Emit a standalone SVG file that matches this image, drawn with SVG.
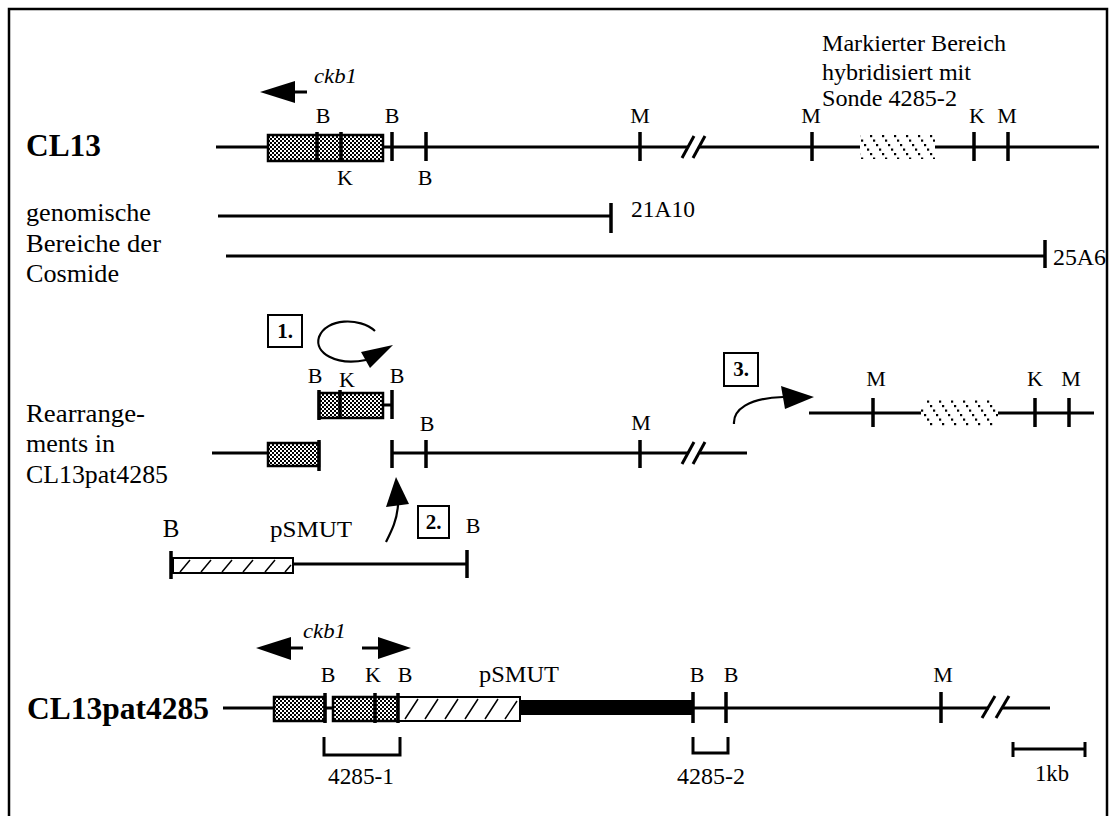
<svg xmlns="http://www.w3.org/2000/svg" width="1114" height="816" viewBox="0 0 1114 816">
<style>
text{font-family:"Liberation Serif","Times New Roman",serif;fill:#000}
.lb{font-size:22px;text-anchor:middle}
.tx{font-size:25px}
.sm{font-size:23px}
.bold{font-weight:bold;font-size:31px}
.it{font-style:italic;font-size:22px}
.ln{stroke:#000;stroke-width:3;fill:none}
.tk{stroke:#000;stroke-width:3.5;fill:none}
.th{stroke:#000;stroke-width:1.5;fill:none}
.arc{stroke:#000;stroke-width:2.2;fill:none}
.box{stroke:#000;stroke-width:2.5}
.num{fill:#fff;stroke:#000;stroke-width:2}
.nt{font-size:21px;font-weight:bold;text-anchor:middle}
</style>
<defs>
<pattern id="check" width="4" height="4" patternUnits="userSpaceOnUse"><rect width="4" height="4" fill="#fff"/><rect width="2" height="2" fill="#000"/><rect x="2" y="2" width="2" height="2" fill="#000"/></pattern>
<pattern id="stip" width="12" height="18" patternUnits="userSpaceOnUse"><rect width="12" height="18" fill="#fff"/><rect x="0" y="0" width="2.2" height="2.2" fill="#000"/><rect x="3" y="4.5" width="2.2" height="2.2" fill="#000"/><rect x="6" y="9" width="2.2" height="2.2" fill="#000"/><rect x="9" y="13.5" width="2.2" height="2.2" fill="#000"/></pattern>
</defs>
<rect x="9" y="9" width="1098" height="900" fill="#fff" stroke="#000" stroke-width="2.5"/>

<g id="markierter">
<text class="sm" x="822" y="51" textLength="184" lengthAdjust="spacingAndGlyphs">Markierter Bereich</text>
<text class="sm" x="822" y="80" textLength="149" lengthAdjust="spacingAndGlyphs">hybridisiert mit</text>
<text class="sm" x="822" y="106" textLength="135" lengthAdjust="spacingAndGlyphs">Sonde 4285-2</text>
</g>

<g id="cl13">
<text class="bold" x="26" y="156" textLength="75" lengthAdjust="spacingAndGlyphs">CL13</text>
<polyline class="ln" points="216,147 688,147"/>
<polyline class="ln" points="699,147 1099,147"/>
<line class="ln" x1="682" y1="158" x2="694" y2="136"/>
<line class="ln" x1="693" y1="158" x2="705" y2="136"/>
<rect class="box" x="268" y="135" width="115" height="26" fill="url(#check)"/>
<rect x="860" y="133" width="75" height="26" fill="url(#stip)"/>
<path class="tk" d="M317 132V161M341 132V161M392 132V161M426 132V161M640 132V161M812 132V161M974 132V161M1008 132V161"/>
<text class="lb" x="323" y="123">B</text>
<text class="lb" x="392" y="123">B</text>
<text class="lb" x="640" y="123">M</text>
<text class="lb" x="811" y="123">M</text>
<text class="lb" x="977" y="123">K</text>
<text class="lb" x="1007" y="123">M</text>
<text class="lb" x="345" y="185">K</text>
<text class="lb" x="425" y="185">B</text>
<polygon points="260,92 295,81 295,103" fill="#000"/>
<rect x="294" y="90.5" width="13" height="3" fill="#000"/>
<text class="it" x="314" y="83" textLength="43" lengthAdjust="spacingAndGlyphs">ckb1</text>
</g>

<g id="cosmide">
<text class="tx" x="26" y="221" textLength="125" lengthAdjust="spacingAndGlyphs">genomische</text>
<text class="tx" x="26" y="252" textLength="135" lengthAdjust="spacingAndGlyphs">Bereiche der</text>
<text class="tx" x="26" y="282" textLength="93" lengthAdjust="spacingAndGlyphs">Cosmide</text>
<line class="ln" x1="218" y1="216" x2="611" y2="216"/>
<line class="tk" x1="611" y1="203" x2="611" y2="233"/>
<text class="sm" x="631" y="217" textLength="64" lengthAdjust="spacingAndGlyphs">21A10</text>
<line class="ln" x1="226" y1="256" x2="1045" y2="256"/>
<line class="tk" x1="1045" y1="240" x2="1045" y2="268"/>
<text class="sm" x="1053" y="265" textLength="53" lengthAdjust="spacingAndGlyphs">25A6</text>
</g>

<g id="rearrangements">
<text class="tx" x="26" y="422" textLength="119" lengthAdjust="spacingAndGlyphs">Rearrange-</text>
<text class="tx" x="26" y="452" textLength="89" lengthAdjust="spacingAndGlyphs">ments in</text>
<text class="tx" x="26" y="483" textLength="142" lengthAdjust="spacingAndGlyphs">CL13pat4285</text>
<line class="ln" x1="212" y1="453" x2="268" y2="453"/>
<rect class="box" x="268" y="443" width="51" height="23" fill="url(#check)"/>
<line class="tk" x1="319" y1="440" x2="319" y2="471"/>
<line class="ln" x1="392" y1="453" x2="688" y2="453"/>
<line class="ln" x1="700" y1="453" x2="747" y2="453"/>
<line class="ln" x1="682" y1="464" x2="694" y2="442"/>
<line class="ln" x1="693" y1="464" x2="705" y2="442"/>
<path class="tk" d="M392 440V468M426 440V468M640 440V468"/>
<text class="lb" x="427" y="431">B</text>
<text class="lb" x="641" y="430">M</text>
</g>

<g id="fragment">
<rect class="box" x="319" y="393" width="64" height="25" fill="url(#check)"/>
<line class="tk" x1="319" y1="390" x2="319" y2="420"/>
<line class="tk" x1="340" y1="390" x2="340" y2="419"/>
<line class="ln" x1="383" y1="405" x2="392" y2="405"/>
<line class="tk" x1="392" y1="390" x2="392" y2="419"/>
<text class="lb" x="315" y="383">B</text>
<text class="lb" x="347" y="387">K</text>
<text class="lb" x="397" y="383">B</text>
</g>

<g id="distal">
<line class="ln" x1="809" y1="413" x2="921" y2="413"/>
<line class="ln" x1="998" y1="413" x2="1094" y2="413"/>
<rect x="921" y="400" width="77" height="27" fill="url(#stip)"/>
<path class="tk" d="M873 398V427M1035 398V427M1069 398V427"/>
<text class="lb" x="876" y="386">M</text>
<text class="lb" x="1035" y="386">K</text>
<text class="lb" x="1071" y="386">M</text>
</g>

<g id="psmut">
<text x="171" y="537" font-size="25" text-anchor="middle">B</text>
<text class="sm" x="270" y="537" textLength="82" lengthAdjust="spacingAndGlyphs">pSMUT</text>
<text class="lb" x="473" y="533">B</text>
<line class="ln" x1="293" y1="564" x2="467" y2="564"/>
<rect x="173" y="558" width="120" height="15" fill="#fff" stroke="#000" stroke-width="2"/>
<path class="th" d="M180 572L190 560M201 572L211 560M222 572L232 560M243 572L253 560M265 572L275 560M285 572L291 565"/>
<line class="tk" x1="171" y1="551" x2="171" y2="579"/>
<line class="tk" x1="467" y1="550" x2="467" y2="578"/>
</g>

<g id="steps">
<rect class="num" x="268" y="315" width="34" height="32"/>
<text class="nt" x="285" y="338">1.</text>
<rect class="num" x="418" y="506" width="31" height="32"/>
<text class="nt" x="433.5" y="529">2.</text>
<rect class="num" x="724" y="353" width="34" height="33"/>
<text class="nt" x="741" y="376">3.</text>
</g>

<g id="connectors">
<path class="arc" d="M375 331C360 317 326 318 319 337C314 353 336 366 366 360"/>
<polygon points="393,345 361,352 370,368" fill="#000"/>
<path class="arc" d="M386 542C392 530 397 520 398 505"/>
<polygon points="396,477 386,507 409,504" fill="#000"/>
<path class="arc" d="M734 424C733 410 748 398 783 397"/>
<polygon points="814,397 781,386 785,409" fill="#000"/>
</g>

<g id="cl13pat4285">
<text class="bold" x="27" y="719" textLength="182" lengthAdjust="spacingAndGlyphs">CL13pat4285</text>
<line class="ln" x1="223" y1="708" x2="989" y2="708"/>
<line class="ln" x1="1002" y1="708" x2="1050" y2="708"/>
<line class="ln" x1="982" y1="718" x2="995" y2="696"/>
<line class="ln" x1="996" y1="718" x2="1009" y2="696"/>
<rect class="box" x="274" y="697" width="51" height="24" fill="url(#check)"/>
<rect class="box" x="333" y="697" width="65" height="24" fill="url(#check)"/>
<rect x="398" y="697" width="122" height="24" fill="#fff" stroke="#000" stroke-width="2"/>
<path class="th" d="M405 719L418 699M425 719L438 699M445 719L458 699M465 719L478 699M485 719L498 699M505 719L517 701"/>
<rect x="520" y="700" width="173" height="15" fill="#000"/>
<path class="tk" d="M325 693V723M375 693V723M398 693V723M693 692V723M726 692V723M941 692V723"/>
<text class="lb" x="328" y="682">B</text>
<text class="lb" x="373" y="682">K</text>
<text class="lb" x="405" y="682">B</text>
<text class="sm" x="479" y="682" textLength="80" lengthAdjust="spacingAndGlyphs">pSMUT</text>
<text class="lb" x="697" y="682">B</text>
<text class="lb" x="731" y="682">B</text>
<text class="lb" x="943" y="682">M</text>
<polygon points="256,648 291,637 291,660" fill="#000"/>
<rect x="290" y="646.5" width="13" height="3" fill="#000"/>
<rect x="362" y="646.5" width="17" height="3" fill="#000"/>
<polygon points="411,648 378,637 378,659" fill="#000"/>
<text class="it" x="303" y="638" textLength="43" lengthAdjust="spacingAndGlyphs">ckb1</text>
</g>

<g id="probes">
<path class="ln" d="M324 737V755H400V737"/>
<text class="sm" x="328" y="784" textLength="66" lengthAdjust="spacingAndGlyphs">4285-1</text>
<path class="ln" d="M693 737V753H728V737"/>
<text class="sm" x="677" y="784" textLength="68" lengthAdjust="spacingAndGlyphs">4285-2</text>
</g>

<g id="scale">
<path class="ln" d="M1013 749H1085M1013 742V757M1085 742V757"/>
<text class="sm" x="1035" y="781" textLength="34" lengthAdjust="spacingAndGlyphs">1kb</text>
</g>
</svg>
